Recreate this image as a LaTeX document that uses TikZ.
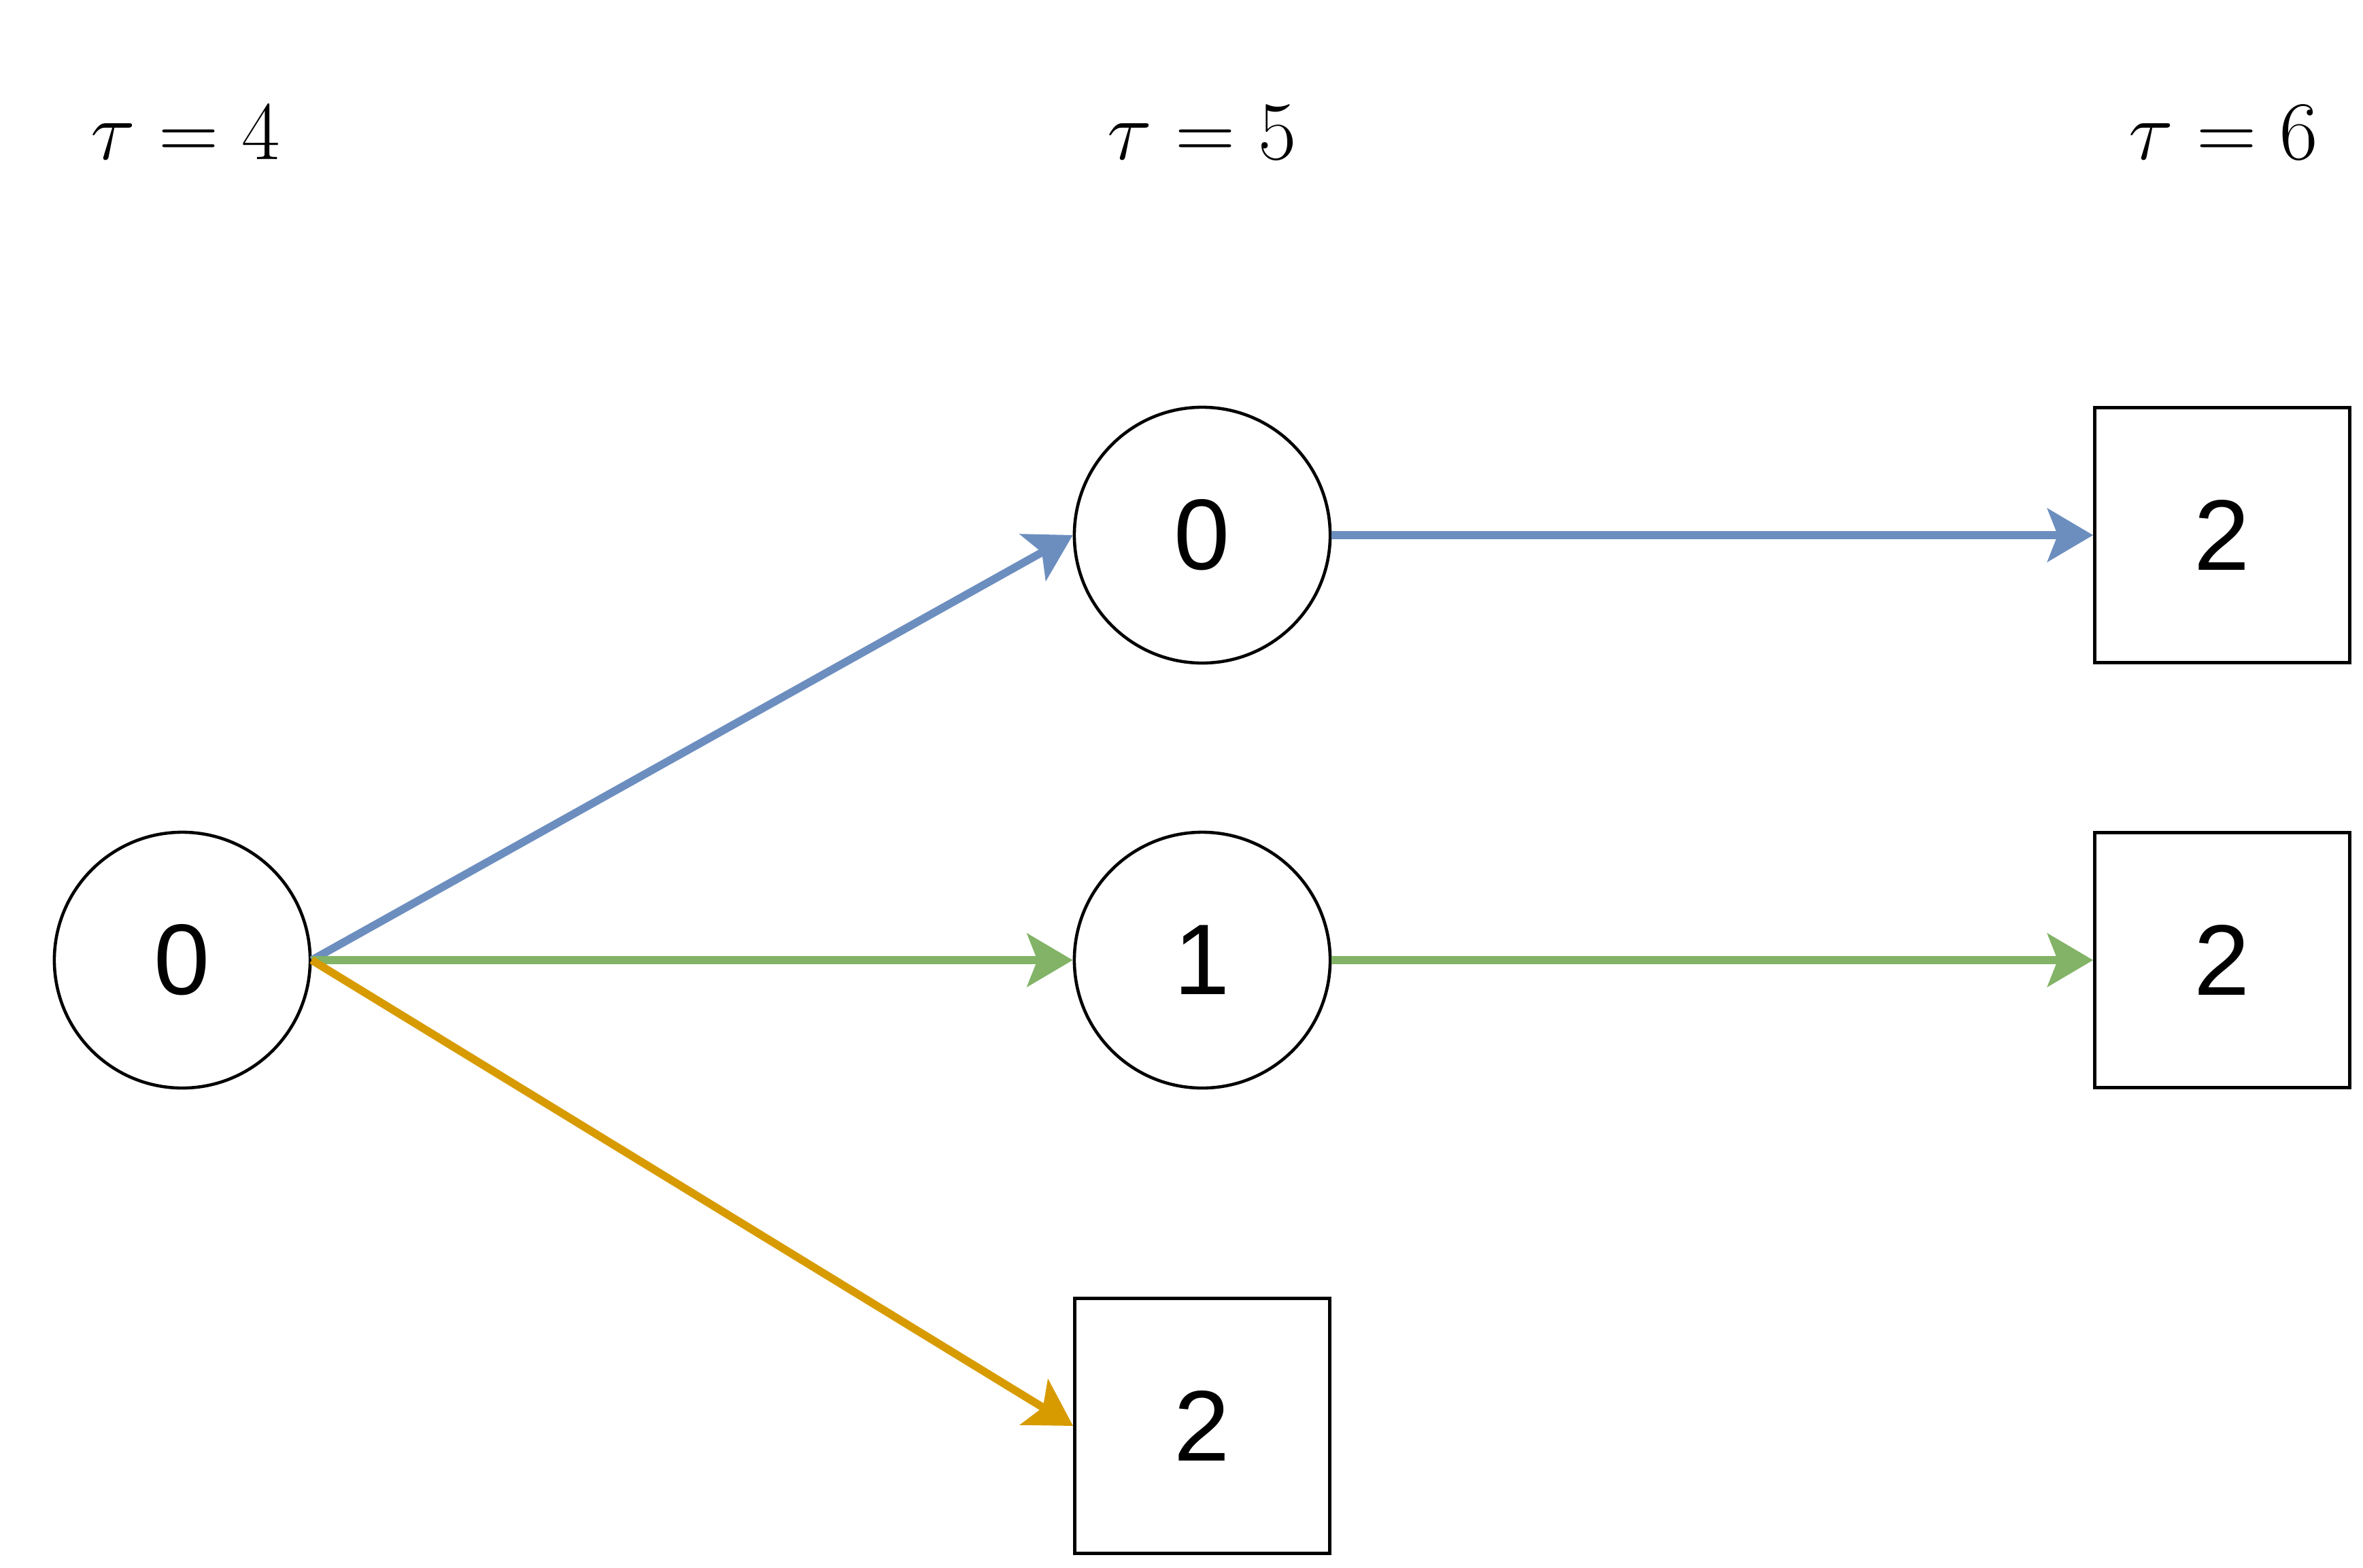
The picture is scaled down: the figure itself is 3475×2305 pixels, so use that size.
\documentclass[tikz,border=0pt]{standalone}
\usepackage{fontspec}
\newfontfamily\nodefont{Liberation Sans}
\usetikzlibrary{arrows.meta}
\definecolor{cblue}{HTML}{6C8EBF}
\definecolor{cgreen}{HTML}{82B366}
\definecolor{cyellow}{HTML}{D79B00}
\begin{document}
\begin{tikzpicture}[x=0.01cm,y=-0.01cm,
  state/.style={circle,draw=black,line width=1.3pt,minimum size=3.76cm,inner sep=0pt,font=\nodefont\fontsize{42}{50}\selectfont},
  term/.style={rectangle,draw=black,line width=1.3pt,minimum size=3.75cm,inner sep=0pt,font=\nodefont\fontsize{42}{50}\selectfont},
  lbl/.style={font=\fontsize{24.88}{30}\selectfont,scale=1.4,transform shape},
  conn/.style={line width=3.3pt,-{Stealth[length=0.67cm,width=0.78cm,inset=0.15cm]}}]
\useasboundingbox (0,0) rectangle (3475,2305);
\node[lbl] (t4) at (273,195) {$\tau=4$};
\node[lbl] (t5) at (1768,195) {$\tau=5$};
\node[lbl] (t6) at (3270,195) {$\tau=6$};
\node[state] (a) at (268,1412) {0};
\node[state] (b0) at (1768,787) {0};
\node[state] (b1) at (1768,1412) {1};
\node[term] (b2) at (1768,2097) {2};
\node[term] (c0) at (3268,787) {2};
\node[term] (c1) at (3268,1412) {2};
\draw[conn,cblue] (a.east) -- (b0.west);
\draw[conn,cgreen] (a.east) -- (b1.west);
\draw[conn,cyellow] (a.east) -- (b2.west);
\draw[conn,cblue] (b0.east) -- (c0.west);
\draw[conn,cgreen] (b1.east) -- (c1.west);
\end{tikzpicture}
\end{document}
